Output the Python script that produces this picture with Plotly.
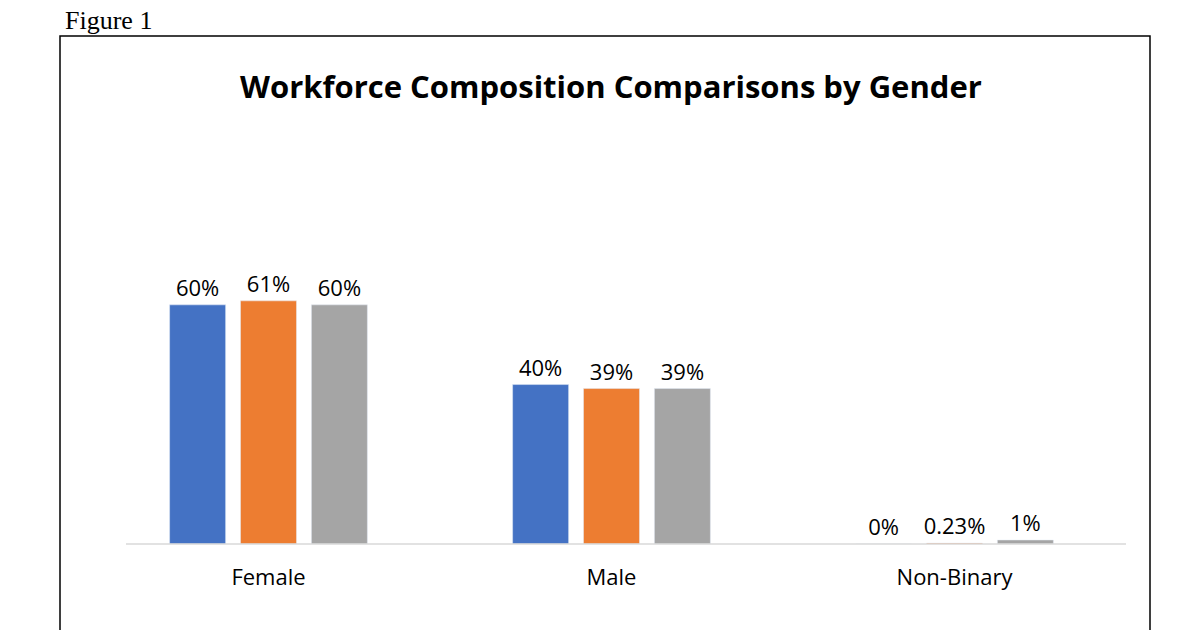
import plotly.graph_objects as go

categories = ["Female", "Male", "Non-Binary"]
years = ["2021", "2022", "2023"]
values = {
    "2021": [0.60, 0.40, 0.0],
    "2022": [0.61, 0.39, 0.0023],
    "2023": [0.60, 0.39, 0.01],
}
labels = {
    "2021": ["60%", "40%", "0%"],
    "2022": ["61%", "39%", "0.23%"],
    "2023": ["60%", "39%", "1%"],
}
colors = {"2021": "#4472C4", "2022": "#ED7D31", "2023": "#A5A5A5"}

fig = go.Figure()
for y in years:
    fig.add_bar(x=categories, y=values[y], name=y, marker_color=colors[y],
                text=labels[y], textposition="outside", cliponaxis=False,
                constraintext="none",
                textfont=dict(size=22, color="#000"))

L, R, T, B = 89, 82, 257, 94
H = 630 - T - B
W = 1200 - L - R
def px(x): return (x - L) / W
def py(y): return (630 - B - y) / H

fig.update_layout(
    width=1200, height=630, margin=dict(l=L, r=R, t=T, b=B, autoexpand=False),
    paper_bgcolor="white", plot_bgcolor="white",
    font=dict(family="Open Sans", color="#000"),
    bargap=0.38, bargroupgap=0.21, barmode="group",
    showlegend=True,
    legend=dict(orientation="h", x=0.5, xanchor="center", xref="container",
                yref="container", y=1 - 612 / 630, yanchor="top",
                font=dict(size=22)),
    xaxis=dict(showline=False, showgrid=False, ticks="", tickfont=dict(size=22, color="#000"),
               automargin=False),
    yaxis=dict(range=[0, 0.7], visible=False),
    shapes=[
        dict(type="line", xref="paper", yref="paper", x0=px(118), x1=px(1118), y0=0, y1=0,
             line=dict(color="#D9D9D9", width=1.5)),
        dict(type="rect", xref="paper", yref="paper", x0=px(52), x1=px(1142), y0=py(28), y1=py(700),
             line=dict(color="#000", width=1.5)),
    ],
    annotations=[
        dict(text="<b>Workforce Composition Comparisons by Gender</b>", xref="paper", yref="paper",
             x=px(603), y=py(78), xanchor="center", yanchor="middle", showarrow=False,
             font=dict(size=31, family="Open Sans", color="#000")),
        dict(text="Figure 1", xref="paper", yref="paper", x=px(55), y=py(12), xanchor="left",
             yanchor="middle", showarrow=False,
             font=dict(size=26, family="Liberation Serif", color="#000")),
    ],
)
fig.update_xaxes(ticklabelstandoff=18)
fig.write_html("out.html")
